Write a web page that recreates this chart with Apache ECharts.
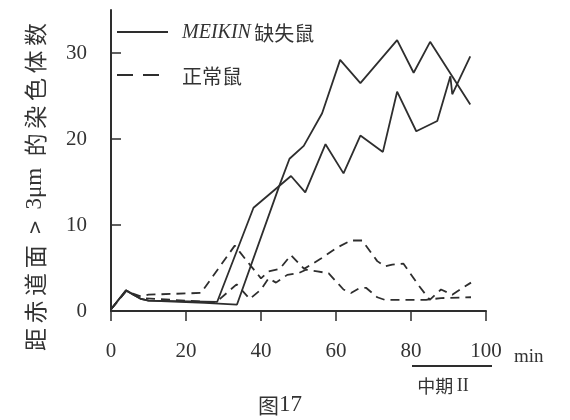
<!DOCTYPE html>
<html>
<head>
<meta charset="utf-8">
<script src="https://cdn.jsdelivr.net/npm/echarts@6/dist/echarts.min.js"></script>
<style>
html,body{margin:0;padding:0;background:#fff;}
#chart{width:570px;height:420px;}
</style>
</head>
<body>
<div id="chart"></div>
<script>
// ---- data ----
const legendNames = ['MEIKIN 缺失鼠', '正常鼠'];
const xTicks = [0, 20, 40, 60, 80, 100];
const yTicks = [0, 10, 20, 30];

const mutantAMin = [0, 4, 8, 10, 28.3, 38, 48, 51.8, 57.2, 62, 66.5, 72.5, 76.3, 81.4, 87, 90.5, 91, 95.8];
const mutantAVal = [0.2, 2.4, 1.4, 1.2, 1.05, 12.0, 15.7, 13.8, 19.4, 16.0, 20.4, 18.5, 25.5, 20.9, 22.1, 27.3, 25.2, 29.6];

const mutantBMin = [0, 4, 8, 10, 25, 33.6, 45, 47.6, 51.4, 56.3, 61.1, 66.5, 76.3, 80.7, 85.1, 95.8];
const mutantBVal = [0.2, 2.4, 1.4, 1.2, 0.95, 0.75, 14.7, 17.7, 19.2, 23.0, 29.2, 26.5, 31.5, 27.7, 31.3, 24.0];

const normalCMin = [0, 4, 8, 10, 24, 33, 37, 40, 42, 45, 48, 51.5, 56, 60, 64, 67, 71, 73, 75, 78, 82, 85, 88, 91, 96];
const normalCVal = [0.2, 2.3, 1.7, 1.9, 2.1, 7.6, 5.4, 3.8, 4.6, 4.9, 6.5, 4.9, 6.1, 7.3, 8.2, 8.2, 5.8, 5.2, 5.4, 5.5, 3.0, 1.3, 2.5, 1.9, 3.3];

const normalDMin = [0, 4, 8, 28, 33.5, 37, 40, 42, 44, 47, 50, 52, 55, 58, 62, 64, 66, 68, 71, 73, 84, 88, 96];
const normalDVal = [0.2, 2.3, 1.5, 1.0, 3.1, 1.4, 2.5, 3.8, 3.3, 4.2, 4.4, 4.8, 4.6, 4.4, 2.5, 2.1, 2.6, 2.7, 1.6, 1.3, 1.3, 1.5, 1.6];

function zip(xs, ys) { return xs.map((x, i) => [x, ys[i]]); }

const ink = '#2e2e2e';
const serif = '"Liberation Serif", "DejaVu Serif", serif';
const cjk = '"Noto Sans CJK SC", sans-serif';
const dash = [9, 6];

function lineSeries(name, xs, ys, dashed) {
  return {
    name: name,
    type: 'line',
    data: zip(xs, ys),
    showSymbol: false,
    symbol: 'none',
    smooth: false,
    animation: false,
    lineStyle: { color: ink, width: 1.8, type: dashed ? dash : 'solid' },
    itemStyle: { color: ink }
  };
}

const chart = echarts.init(document.getElementById('chart'));
chart.setOption({
  backgroundColor: '#fff',
  animation: false,
  grid: { left: 111, right: 84, top: 10, bottom: 109, containLabel: false },
  xAxis: {
    type: 'value', min: 0, max: 100, interval: 20,
    axisLine: { onZero: false, lineStyle: { color: ink, width: 2 } },
    axisTick: { inside: false, length: 10, lineStyle: { color: ink, width: 1.5 }, customValues: xTicks },
    axisLabel: { margin: 30, fontFamily: serif, fontSize: 21, color: '#333', customValues: xTicks },
    splitLine: { show: false }
  },
  yAxis: {
    type: 'value', min: 0, max: 35,
    axisLine: { show: true, lineStyle: { color: ink, width: 2 } },
    axisTick: { show: true, inside: true, length: 10, lineStyle: { color: ink, width: 1.5 }, customValues: yTicks },
    axisLabel: { margin: 24, fontFamily: serif, fontSize: 21, color: '#333', customValues: yTicks },
    splitLine: { show: false }
  },
  graphic: [
    // legend (drawn by hand, line samples without markers)
    { type: 'line', shape: { x1: 117, y1: 32, x2: 168, y2: 32 }, style: { stroke: ink, lineWidth: 1.8 } },
    { type: 'text', x: 182, y: 33,
      style: { text: '{i|MEIKIN} {c|缺失鼠}', verticalAlign: 'middle',
               rich: { i: { font: 'italic 20px ' + serif, fill: '#333' },
                       c: { font: '20px ' + cjk, fill: '#333' } } } },
    { type: 'line', shape: { x1: 117, y1: 75, x2: 164, y2: 75 },
      style: { stroke: ink, lineWidth: 1.8, lineDash: [16, 10] } },
    { type: 'text', x: 182, y: 76,
      style: { text: '正常鼠', font: '20px ' + cjk, fill: '#333', verticalAlign: 'middle' } },
    // axis titles and caption
    { type: 'text', x: 35, y: 187, rotation: Math.PI / 2,
      style: { text: '{c|距\u2009赤\u2009道\u2009面\u2002>\u2002}{s|3μm}{c|\u2002的\u2009染\u2009色\u2009体\u2009数}',
               align: 'center', verticalAlign: 'middle',
               rich: { c: { font: '23px ' + cjk, fill: '#333' },
                       s: { font: '23px ' + serif, fill: '#333' } } } },
    { type: 'text', x: 514, y: 357,
      style: { text: 'min', font: '19px ' + serif, fill: '#333', verticalAlign: 'middle' } },
    { type: 'line', shape: { x1: 412, y1: 366, x2: 492, y2: 366 },
      style: { stroke: ink, lineWidth: 2 } },
    { type: 'text', x: 443, y: 386,
      style: { text: '{c|中期} {s|II}', align: 'center', verticalAlign: 'middle',
               rich: { c: { font: '18px ' + cjk, fill: '#333' }, s: { font: '18px ' + serif, fill: '#333' } } } },
    { type: 'text', x: 280, y: 405,
      style: { text: '{c|图}{s|17}', align: 'center', verticalAlign: 'middle',
               rich: { c: { font: '21px ' + cjk, fill: '#333' }, s: { font: '23px ' + serif, fill: '#333' } } } }
  ],
  series: [
    lineSeries(legendNames[0], mutantAMin, mutantAVal, false),
    lineSeries(legendNames[0], mutantBMin, mutantBVal, false),
    lineSeries(legendNames[1], normalCMin, normalCVal, true),
    lineSeries(legendNames[1], normalDMin, normalDVal, true)
  ]
});
</script>
</body>
</html>
